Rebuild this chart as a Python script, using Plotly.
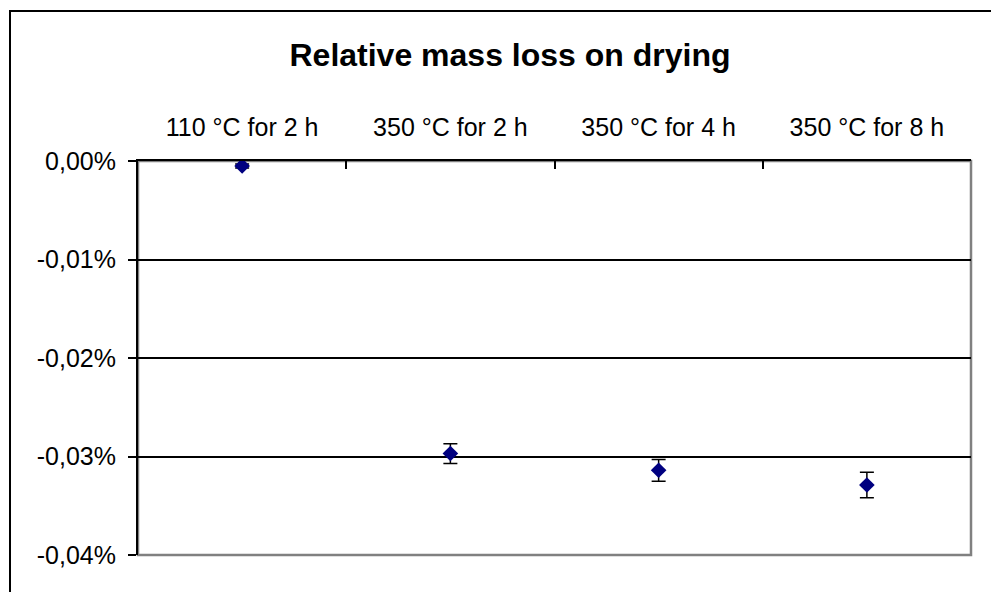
import plotly.graph_objects as go

categories = ["110 °C for 2 h", "350 °C for 2 h", "350 °C for 4 h", "350 °C for 8 h"]
mass_loss = [-0.000005, -0.000297, -0.000314, -0.000329]
err = [0.000002, 0.000010, 0.000011, 0.000013]
y_ticks = [0, -0.0001, -0.0002, -0.0003, -0.0004]
y_tick_labels = ["0,00%", "-0,01%", "-0,02%", "-0,03%", "-0,04%"]

W, H = 999, 592
OFF = 8  # page body margin
# plot area in screen pixels
SL, SR, ST, SB = 138, 971, 161, 555
L, R, T, B = SL - OFF, SR - OFF, ST - OFF, SB - OFF

def px(x):  # screen x -> paper
    return (x - SL) / (SR - SL)

def py(y):  # screen y -> paper
    return (SB - y) / (SB - ST)

FONT = "Arial, Liberation Sans, sans-serif"

fig = go.Figure()
fig.add_trace(go.Scatter(
    x=categories, y=mass_loss, mode="markers",
    marker=dict(symbol="diamond", size=12, color="#000080"),
    error_y=dict(type="data", array=err, visible=True, color="black", thickness=1.5, width=7),
    showlegend=False,
))

fig.update_layout(
    width=W, height=H,
    margin=dict(l=L, r=W - R, t=T, b=H - B, pad=0),
    paper_bgcolor="white", plot_bgcolor="white",
    font=dict(family=FONT, size=25, color="black"),
    title=dict(text="<b>Relative mass loss on drying</b>", x=(510 - OFF) / W, xanchor="center",
               y=1 - (55 - OFF) / H, yanchor="middle", font=dict(size=32, family=FONT)),
    xaxis=dict(
        side="top", type="category", range=[-0.5, 3.5],
        showgrid=False, showline=True, linecolor="black", linewidth=2,
        ticks="inside", tickson="boundaries", ticklen=8, tickcolor="black", tickwidth=2,
        ticklabelstandoff=13, tickfont=dict(size=25), zeroline=False,
    ),
    yaxis=dict(
        range=[-0.0004, 0], tickvals=y_ticks, ticktext=y_tick_labels,
        showgrid=True, gridcolor="black", gridwidth=1.5,
        showline=True, linecolor="black", linewidth=2,
        ticks="outside", ticklen=8, tickcolor="black", tickwidth=1.5,
        ticklabelstandoff=7, tickfont=dict(size=25), zeroline=False,
    ),
    shapes=[
        dict(type="rect", xref="paper", yref="paper", x0=0, x1=1, y0=0, y1=1,
             line=dict(color="#808080", width=2.5), layer="below"),
        dict(type="rect", xref="paper", yref="paper", x0=px(10), x1=px(1030), y0=py(11), y1=py(640),
             line=dict(color="black", width=2), layer="above"),
    ],
)

fig.write_html("out.html")
